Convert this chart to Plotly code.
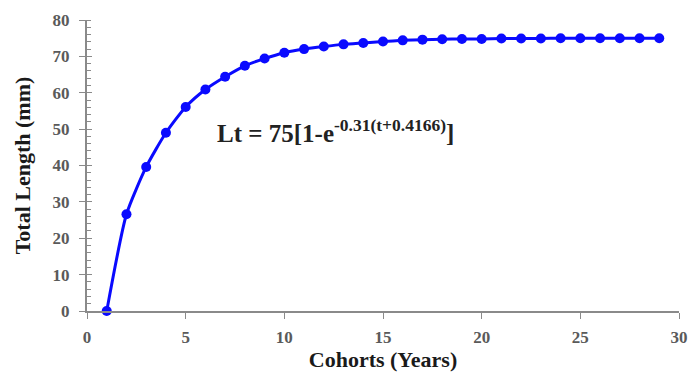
import plotly.graph_objects as go

cohorts = list(range(1, 30))
total_length = [0, 26.6, 39.6, 49.0, 56.1, 60.9, 64.4, 67.4, 69.4, 71.0,
                72.0, 72.7, 73.3, 73.7, 74.1, 74.4, 74.6, 74.7, 74.8, 74.8,
                74.9, 74.9, 74.9, 75.0, 75.0, 75.0, 75.0, 75.0, 75.0]
x_ticks = [0, 5, 10, 15, 20, 25, 30]
y_ticks = [0, 10, 20, 30, 40, 50, 60, 70, 80]
equation = "Lt = 75[1-e<sup>-0.31(t+0.4166)</sup>]"

FONT = "Liberation Serif"
tickfont = dict(family=FONT, size=17, color="#5a5a5a")
titlefont = dict(family=FONT, size=22, color="#1a1a1a")
axis_col = "#8a8a8a"

fig = go.Figure()
fig.add_trace(go.Scatter(
    x=cohorts, y=total_length, mode="lines+markers",
    line=dict(color="#0a0aff", width=3, shape="spline", smoothing=0.6),
    marker=dict(color="#0a0aff", size=10),
    showlegend=False, cliponaxis=False,
))
fig.add_trace(go.Scatter(x=[0], y=[0], yaxis="y2", mode="markers",
                         marker=dict(opacity=0, size=1), showlegend=False, hoverinfo="skip"))

fig.update_layout(
    width=692, height=373,
    margin=dict(l=87, r=13, t=20, b=62),
    plot_bgcolor="white", paper_bgcolor="white",
    xaxis=dict(
        range=[0, 30], tickvals=x_ticks, ticktext=[f"<b>{v}</b>" for v in x_ticks],
        ticks="outside", ticklen=6, automargin=False, ticklabelstandoff=4,
        tickcolor=axis_col, showline=True, linecolor=axis_col, linewidth=2,
        showgrid=False, zeroline=False, tickfont=tickfont,
        title=dict(text="<b>Cohorts (Years)</b>", font=titlefont, standoff=2),
    ),
    yaxis=dict(
        range=[0, 80], tickvals=y_ticks, ticktext=[f"<b>{v}</b>" for v in y_ticks],
        ticks="outside", ticklen=6, automargin=False, ticklabelstandoff=6,
        tickcolor=axis_col, showline=True, linecolor=axis_col, linewidth=2,
        showgrid=False, zeroline=False, tickfont=tickfont,
        minor=dict(dtick=2, ticks="inside", ticklen=4, tickcolor=axis_col),
        title=dict(text="<b>Total Length (mm)</b>", font=titlefont, standoff=16),
    ),
    yaxis2=dict(
        range=[0, 80], overlaying="y", side="left", tickvals=y_ticks,
        ticks="inside", ticklen=5, tickcolor=axis_col, showticklabels=False,
        showgrid=False, zeroline=False, showline=False, automargin=False,
    ),
    annotations=[dict(
        x=0.216, y=0.618, xref="paper", yref="paper", xanchor="left", yanchor="middle",
        text="<b>" + equation + "</b>", showarrow=False,
        font=dict(family=FONT, size=25, color="#222222"),
    )],
)
fig.update_layout(font=dict(family=FONT))
fig.write_html("out.html", config={"displayModeBar": False},
               post_script="document.body.style.margin='0';")
